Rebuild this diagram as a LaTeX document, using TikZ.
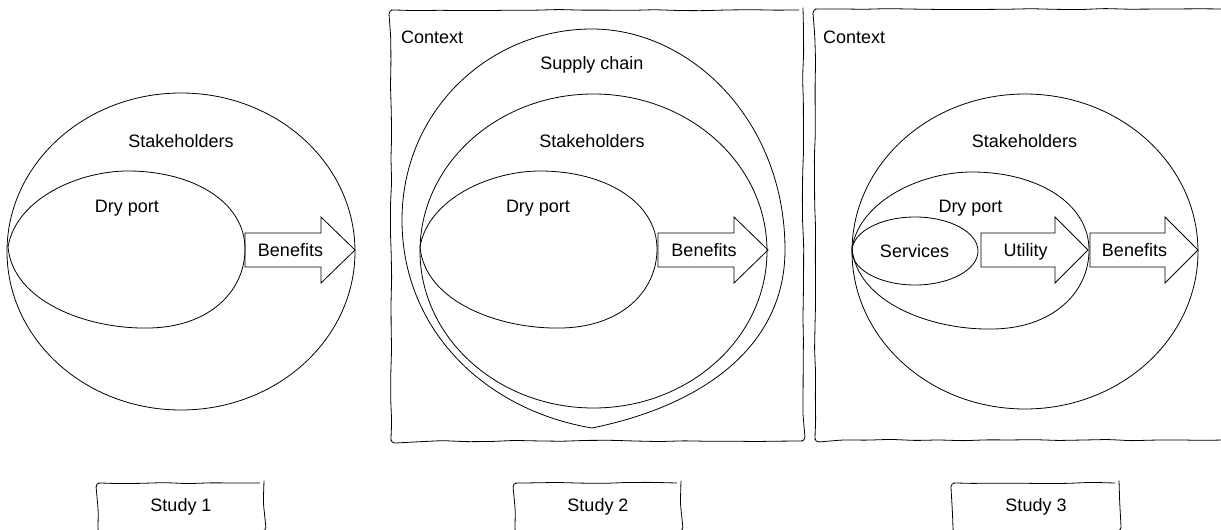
\documentclass[tikz,border=0pt]{standalone}
\usepackage{fontspec}
\setmainfont{Liberation Sans}
\usetikzlibrary{shapes.geometric,decorations.pathmorphing}
\begin{document}
\begin{tikzpicture}[x=1pt,y=-1pt,
  shapeline/.style={draw=black, line width=0.8pt},
  sketchbox/.style={draw=black, line width=0.8pt, inner sep=0pt,
    decorate, decoration={random steps, segment length=24pt, amplitude=0.7pt},
    rounded corners=4pt},
  lbl/.style={font=\fontsize{18}{21}\selectfont, inner sep=0pt, anchor=base},
  ctxlbl/.style={lbl, anchor=base west},
  studylbl/.style={sketchbox, font=\fontsize{18}{21}\selectfont},
  fat/.style={draw=black, line width=0.8pt, line join=miter},
  oval/.style={ellipse, draw=black, line width=0.8pt, inner sep=0pt},
  pics/egg/.style={code={
    \draw[shapeline] (0,0) .. controls (8,-48) and (70,-76) .. (120,-76)
      .. controls (185,-76) and (237,-45) .. (237,2)
      .. controls (237,45) and (200,81) .. (139,81)
      .. controls (80,82) and (5,55) .. (0,0) -- cycle;}},
  pics/fatarrow/.style args={#1/#2}{code={
    \draw[fat] (0,-17) -- (#1,-17) -- (#1,-33) -- (#2,0) -- (#1,33)
      -- (#1,17) -- (0,17) -- cycle;}},
]
\pgfmathsetseed{7}
\useasboundingbox (0,0) rectangle (1221,530);

% ---------------- Study 1 ----------------
\node[oval, minimum width=348pt, minimum height=317pt] (stake1) at (181,251.5) {};
\pic (dry1) at (8,247) {egg};
\pic (arr1) at (245,250) {fatarrow={76/110}};
\node[lbl] (stake1t) at (181,147) {Stakeholders};
\node[lbl] (dry1t) at (127,212) {Dry port};
\node[lbl] (ben1t) at (290.5,256) {Benefits};

% ---------------- Study 2 ----------------
\node[sketchbox, minimum width=412pt, minimum height=431pt] (ctx2) at (597,225.5) {};
\node[ctxlbl] (ctx2t) at (401,43) {Context};
\draw[shapeline] (592,29) .. controls (690,29) and (785,120) .. (785,250)
  .. controls (785,345) and (705,405) .. (592,428)
  .. controls (485,410) and (402,330) .. (402,220)
  .. controls (402,110) and (490,29) .. (592,29) -- cycle;
\node[lbl] (sc2t) at (592,69) {Supply chain};
\node[oval, minimum width=347pt, minimum height=314pt] (stake2) at (593.5,251) {};
\pic (dry2) at (420,247) {egg};
\pic (arr2) at (658,250) {fatarrow={76/110}};
\node[lbl] (stake2t) at (592,147) {Stakeholders};
\node[lbl] (dry2t) at (538,212) {Dry port};
\node[lbl] (ben2t) at (704,256) {Benefits};

% ---------------- Study 3 ----------------
\node[sketchbox, minimum width=413pt, minimum height=431pt] (ctx3) at (1021.5,224.5) {};
\node[ctxlbl] (ctx3t) at (823,43) {Context};
\node[oval, minimum width=346pt, minimum height=315pt] (stake3) at (1025,251.5) {};
\pic (dry3) at (852,248) {egg};
\node[oval, minimum width=126pt, minimum height=68pt] (serv3) at (915,251) {};
\pic (arr3a) at (981,250) {fatarrow={74/107}};
\pic (arr3b) at (1090,250) {fatarrow={75/108}};
\node[lbl] (stake3t) at (1024.5,147) {Stakeholders};
\node[lbl] (dry3t) at (970.5,212) {Dry port};
\node[lbl] (serv3t) at (914.5,257) {Services};
\node[lbl] (util3t) at (1025.5,256) {Utility};
\node[lbl] (ben3t) at (1134.5,256) {Benefits};

% ---------------- Study labels ----------------
\node[studylbl, minimum width=166pt, minimum height=48pt] (st1) at (181,507) {Study 1};
\node[studylbl, minimum width=166pt, minimum height=48pt] (st2) at (598,507) {Study 2};
\node[studylbl, minimum width=166pt, minimum height=48pt] (st3) at (1036,507) {Study 3};
\end{tikzpicture}
\end{document}
